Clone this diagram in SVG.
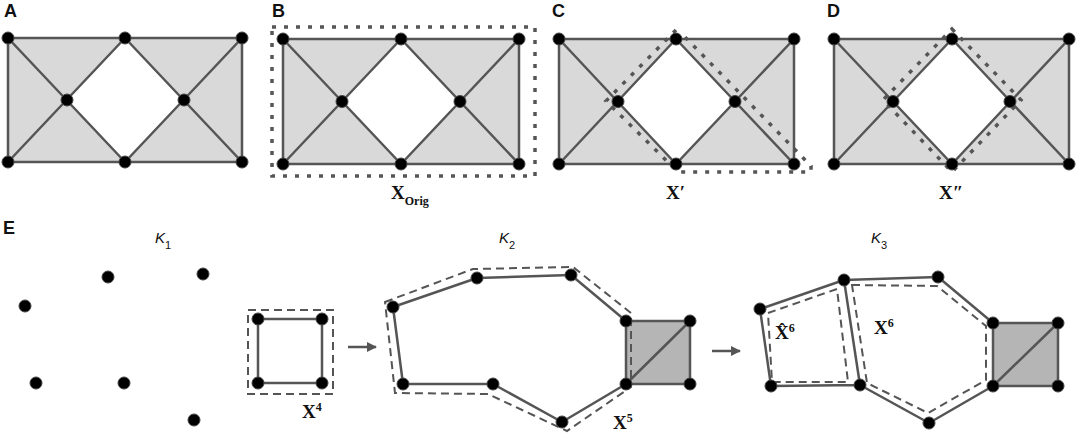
<svg xmlns="http://www.w3.org/2000/svg" width="1079" height="437" viewBox="0 0 1079 437">
<defs>
<style>
.bg{fill:#d9d9d9;stroke:none}
.hole{fill:#fff;stroke:none}
.sq{fill:#b5b5b5;stroke:none}
.e{fill:none;stroke:#555;stroke-width:2.5;stroke-linejoin:round}
.dot{fill:none;stroke:#555;stroke-width:3.5;stroke-dasharray:4 8}
.dash{fill:none;stroke:#555;stroke-width:2;stroke-dasharray:8 5}
.n{fill:#000;stroke:#444;stroke-width:1}
.lab{font-family:"Liberation Sans",Arial,sans-serif;font-weight:bold;font-size:18px;fill:#111}
.k{font-family:"Liberation Sans",Arial,sans-serif;font-style:italic;font-size:15px;fill:#111}
.ks{font-family:"Liberation Sans",Arial,sans-serif;font-size:11px;fill:#111}
.x{font-family:"Liberation Serif","Times New Roman",serif;font-weight:bold;font-size:19px;fill:#111}
.xs{font-family:"Liberation Serif","Times New Roman",serif;font-weight:bold;font-size:12px;fill:#111}
.arr{stroke:#555;stroke-width:2.5;fill:none}
</style>
<marker id="ah" viewBox="0 0 10 10" refX="9" refY="5" markerWidth="4" markerHeight="4" orient="auto" markerUnits="strokeWidth">
<path d="M0,0 L10,5 L0,10 Z" fill="#555"/>
</marker>
</defs>
<rect width="1079" height="437" fill="#fff"/>

<!-- labels -->
<text class="lab" x="4" y="17">A</text>
<text class="lab" x="272" y="17">B</text>
<text class="lab" x="552" y="17">C</text>
<text class="lab" x="827" y="17">D</text>
<text class="lab" x="3" y="234">E</text>

<!-- Panel A -->
<g id="panelA">
<polygon class="bg" points="8,38 242,38 242,162 8,162"/>
<polygon class="hole" points="125,38 184,100 125,162 67,100"/>
<g id="panelA-edges">
<path class="e" d="M8,38 H242 V162 H8 Z M8,38 L125,162 M8,162 L125,38 M125,38 L242,162 M125,162 L242,38"/>
</g>
<g id="panelA-nodes">
<circle class="n" cx="8" cy="38" r="6"/><circle class="n" cx="125" cy="38" r="6"/><circle class="n" cx="242" cy="38" r="6"/>
<circle class="n" cx="67" cy="100" r="6"/><circle class="n" cx="184" cy="100" r="6"/>
<circle class="n" cx="8" cy="162" r="6"/><circle class="n" cx="125" cy="162" r="6"/><circle class="n" cx="242" cy="162" r="6"/>
</g>
</g>

<!-- Panel B -->
<g id="panelB">
<polygon class="bg" points="283,39 519,39 519,164 283,164"/>
<polygon class="hole" points="401,39 460,101.5 401,164 342,101.5"/>
<g id="panelB-edges">
<path class="e" d="M283,39 H519 V164 H283 Z M283,39 L401,164 M283,164 L401,39 M401,39 L519,164 M401,164 L519,39"/>
<rect class="dot" x="272" y="27" width="263" height="149"/>
</g>
<g id="panelB-nodes">
<circle class="n" cx="283" cy="39" r="6"/><circle class="n" cx="401" cy="39" r="6"/><circle class="n" cx="519" cy="39" r="6"/>
<circle class="n" cx="342" cy="101.5" r="6"/><circle class="n" cx="460" cy="101.5" r="6"/>
<circle class="n" cx="283" cy="164" r="6"/><circle class="n" cx="401" cy="164" r="6"/><circle class="n" cx="519" cy="164" r="6"/>
</g>
<text class="x" x="391" y="199">X<tspan class="xs" dy="6">Orig</tspan></text>
</g>

<!-- Panel C -->
<g id="panelC">
<polygon class="bg" points="559,39 794,39 794,164 559,164"/>
<polygon class="hole" points="676,39 735,101.5 676,164 618,101.5"/>
<g id="panelC-edges">
<path class="e" d="M559,39 H794 V164 H559 Z M559,39 L676,164 M559,164 L676,39 M676,39 L794,164 M676,164 L794,39"/>
<path class="dot" d="M676,30 L606,101 L678,172 L811,172 L811,166 L682,34"/>
</g>
<g id="panelC-nodes">
<circle class="n" cx="559" cy="39" r="6"/><circle class="n" cx="676" cy="39" r="6"/><circle class="n" cx="794" cy="39" r="6"/>
<circle class="n" cx="618" cy="101.5" r="6"/><circle class="n" cx="735" cy="101.5" r="6"/>
<circle class="n" cx="559" cy="164" r="6"/><circle class="n" cx="676" cy="164" r="6"/><circle class="n" cx="794" cy="164" r="6"/>
</g>
<text class="x" x="666" y="199">X′</text>
</g>

<!-- Panel D -->
<g id="panelD">
<polygon class="bg" points="834,39 1069,39 1069,164 834,164"/>
<polygon class="hole" points="952,39 1010,101.5 952,164 893,101.5"/>
<g id="panelD-edges">
<path class="e" d="M834,39 H1069 V164 H834 Z M834,39 L952,164 M834,164 L952,39 M952,39 L1069,164 M952,164 L1069,39"/>
<path class="dot" d="M952,29 L1021,100 L952,172 L883,100 Z"/>
</g>
<g id="panelD-nodes">
<circle class="n" cx="834" cy="39" r="6"/><circle class="n" cx="952" cy="39" r="6"/><circle class="n" cx="1069" cy="39" r="6"/>
<circle class="n" cx="893" cy="101.5" r="6"/><circle class="n" cx="1010" cy="101.5" r="6"/>
<circle class="n" cx="834" cy="164" r="6"/><circle class="n" cx="952" cy="164" r="6"/><circle class="n" cx="1069" cy="164" r="6"/>
</g>
<text class="x" x="939" y="199">X″</text>
</g>

<!-- Panel E : K1 -->
<g id="K1">
<text class="k" x="155" y="243">K<tspan class="ks" dy="6" font-style="normal">1</tspan></text>
<g id="K1-nodes">
<circle class="n" cx="108" cy="277" r="6"/><circle class="n" cx="203" cy="274" r="6"/>
<circle class="n" cx="25" cy="306" r="6"/><circle class="n" cx="36" cy="383" r="6"/>
<circle class="n" cx="124" cy="383" r="6"/><circle class="n" cx="194" cy="420" r="6"/>
</g>
<g id="X4">
<rect class="dash" x="248" y="310" width="85" height="84"/>
<path class="e" d="M258,319 H322 V383 H258 Z"/>
<circle class="n" cx="258" cy="319" r="6"/><circle class="n" cx="322" cy="319" r="6"/>
<circle class="n" cx="258" cy="383" r="6"/><circle class="n" cx="322" cy="383" r="6"/>
<text class="x" x="302" y="418">X<tspan class="xs" dy="-7">4</tspan></text>
</g>
</g>

<!-- connectors (arrows) -->
<g id="connectors">
<line class="arr" x1="348" y1="347" x2="376" y2="347" marker-end="url(#ah)"/>
<line class="arr" x1="712" y1="351" x2="740" y2="351" marker-end="url(#ah)"/>
</g>

<!-- K2 -->
<g id="K2">
<text class="k" x="499" y="243">K<tspan class="ks" dy="6" font-style="normal">2</tspan></text>
<rect class="sq" x="626" y="321" width="64" height="63"/>
<path class="dash" d="M385,302 L473,269 L573,267 L631,313 L631,387 L567,431 L488,394 L395,393 Z"/>
<path class="e" d="M393,307 L477,278 L571,275 L626,321 L626,384 L562,422 L493,384 L403,384 Z M626,321 H690 V384 H626 M626,384 L690,321"/>
<g id="K2-nodes">
<circle class="n" cx="393" cy="307" r="6"/><circle class="n" cx="477" cy="278" r="6"/>
<circle class="n" cx="571" cy="275" r="6"/><circle class="n" cx="626" cy="321" r="6"/>
<circle class="n" cx="690" cy="321" r="6"/><circle class="n" cx="626" cy="384" r="6"/>
<circle class="n" cx="690" cy="384" r="6"/><circle class="n" cx="562" cy="422" r="6"/>
<circle class="n" cx="493" cy="384" r="6"/><circle class="n" cx="403" cy="384" r="6"/>
</g>
<text class="x" x="613" y="429">X<tspan class="xs" dy="-7">5</tspan></text>
</g>

<!-- K3 -->
<g id="K3">
<text class="k" x="871" y="243">K<tspan class="ks" dy="6" font-style="normal">3</tspan></text>
<rect class="sq" x="993" y="323" width="65" height="63"/>
<path class="dash" d="M768,313 L837,289 L848,382 L772,382 Z"/>
<path class="dash" d="M852,285 L937,286 L986,326 L986,380 L928,413 L867,383 Z"/>
<path class="e" d="M760,309 L844,280 L938,277 L993,323 L993,386 L929,423 L860,385 L771,386 Z M844,280 L860,385 M993,323 H1058 V386 H993 M993,386 L1058,323"/>
<g id="K3-nodes">
<circle class="n" cx="760" cy="309" r="6"/><circle class="n" cx="844" cy="280" r="6"/>
<circle class="n" cx="938" cy="277" r="6"/><circle class="n" cx="993" cy="323" r="6"/>
<circle class="n" cx="1058" cy="323" r="6"/><circle class="n" cx="993" cy="386" r="6"/>
<circle class="n" cx="1058" cy="386" r="6"/><circle class="n" cx="929" cy="423" r="6"/>
<circle class="n" cx="860" cy="385" r="6"/><circle class="n" cx="771" cy="386" r="6"/>
</g>
<text class="x" x="775" y="339">X&#x302;<tspan class="xs" dy="-7">6</tspan></text>
<text class="x" x="874" y="334">X<tspan class="xs" dy="-7">6</tspan></text>
</g>
</svg>
